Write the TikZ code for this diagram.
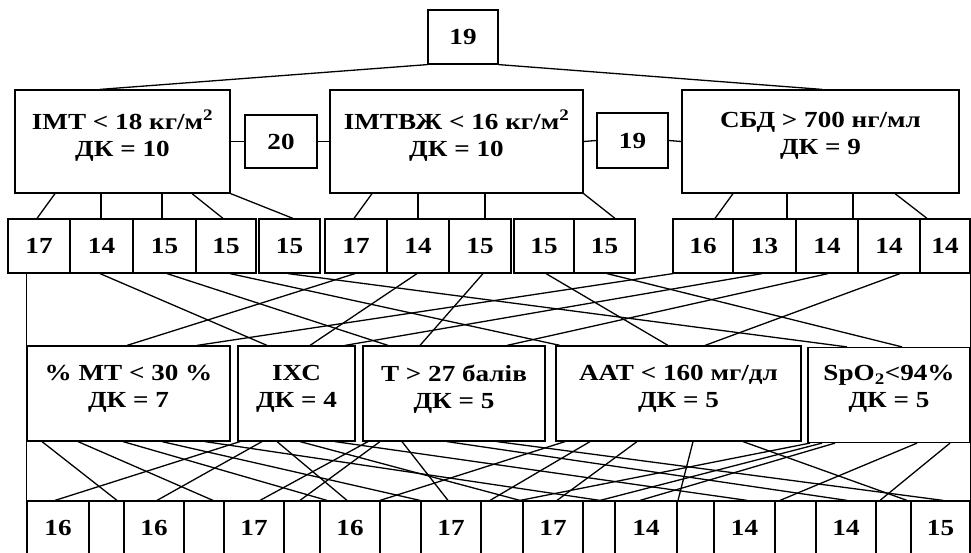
\documentclass[tikz,border=0pt]{standalone}
\usepackage{fontspec}
\setmainfont{Liberation Serif}[FakeStretch=1.18]
\usetikzlibrary{positioning}

\begin{document}
\begin{tikzpicture}[x=1pt, y=-1pt,
    cell/.style={draw, line width=1.2pt, inner sep=0pt, minimum height=54, font=\bfseries\fontsize{23}{27}\selectfont},
    crit/.style={cell, minimum height=103},
    mid/.style={cell, minimum height=95},
    txt/.style={align=center, inner sep=0pt, font=\bfseries\fontsize{23}{27}\selectfont},
    link/.style={line width=1.3pt}
]
\clip (0,0) rectangle (971,553);

% top
\node[cell, minimum width=70] (top) at (463,37) {19};

% first level criteria
\node[crit, minimum width=215] (imt) at (122.5,141.5) {};
\node[crit, minimum width=253] (imtvzh) at (456.5,141.5) {};
\node[crit, minimum width=277] (sbd) at (820.5,141.5) {};
\node[txt] (imt-t) at (122.5,136) {ІМТ < 18 кг/м\textsuperscript{2}\\ДК = 10};
\node[txt] (imtvzh-t) at (456.5,136) {ІМТВЖ < 16 кг/м\textsuperscript{2}\\ДК = 10};
\node[txt] (sbd-t) at (820.5,136) {СБД > 700 нг/мл\\ДК = 9};
\node[cell, minimum width=72, minimum height=53] (n20) at (281,141.5) {20};
\node[cell, minimum width=71, minimum height=55] (n19) at (632.5,140.5) {19};

\draw[link] (top.south west) -- ([xshift=-22.5pt]imt.north);
\draw[link] (top.south east) -- ([xshift=1.5pt]sbd.north);
\draw[link] (imt.east) -- (n20.west);
\draw[link] (n20.east) -- (imtvzh.west);
\draw[link] (imtvzh.east) -- (n19.west);
\draw[link] (n19.east) -- (sbd.west);

% second level scores
\foreach \n/\x/\w/\v in {a1/39/62/17, a2/101.5/63/14, a3/164.5/63/15, a4/226/60/15, a5/289.5/61/15,
    b1/356/62/17, b2/418/62/14, b3/480/62/15, b4/544/60/15, b5/604.5/61/15,
    c1/703/60/16, c2/764.5/63/13, c3/827/62/14, c4/889/62/14, c5/945/50/14}
  \node[cell, minimum width=\w] (\n) at (\x,246) {\v};

\draw[link] ([xshift=-67.5pt]imt.south) -- ([xshift=-2pt]a1.north);
\draw[link] ([xshift=-21.5pt]imt.south) -- ([xshift=-0.5pt]a2.north);
\draw[link] ([xshift=39.5pt]imt.south) -- ([xshift=-2.5pt]a3.north);
\draw[link] ([xshift=69.5pt]imt.south) -- ([xshift=-3pt]a4.north);
\draw[link] (imt.south east) -- ([xshift=3.5pt]a5.north);
\draw[link] ([xshift=-84.5pt]imtvzh.south) -- ([xshift=-2pt]b1.north);
\draw[link] ([xshift=-38.5pt]imtvzh.south) -- (b2.north);
\draw[link] ([xshift=28.5pt]imtvzh.south) -- ([xshift=5pt]b3.north);
\draw[link] (imtvzh.south east) -- ([xshift=10.5pt]b5.north);
\draw[link] ([xshift=-87.5pt]sbd.south) -- ([xshift=12pt]c1.north);
\draw[link] ([xshift=-33.5pt]sbd.south) -- ([xshift=22.5pt]c2.north);
\draw[link] ([xshift=32.5pt]sbd.south) -- ([xshift=26pt]c3.north);
\draw[link] ([xshift=74.5pt]sbd.south) -- ([xshift=38pt]c4.north);

% third level criteria
\node[mid, minimum width=203] (m1) at (128.5,393.5) {};
\node[mid, minimum width=117] (m2) at (296.5,393.5) {};
\node[mid, minimum width=182] (m3) at (454,393.5) {};
\node[mid, minimum width=245] (m4) at (678.5,393.5) {};
\node[mid, minimum width=162] (m5) at (889,395) {};
\node[txt] (m1-t) at (128.5,389) {\% МТ < 30 \%\\ДК = 7};
\node[txt] (m2-t) at (296.5,389) {ІХС\\ДК = 4};
\node[txt] (m3-t) at (454,389) {Т > 27 балів\\ДК = 5};
\node[txt] (m4-t) at (678.5,389) {ААТ < 160 мг/дл\\ДК = 5};
\node[txt] (m5-t) at (889,389) {SpO\textsubscript{2}<94\%\\ДК = 5};

\draw[link] (m1.north west) -- (m1.north west |- a1.south);
\draw[link] (m5.north east) -- (c5.south east);
\foreach \s/\sx/\d/\dx in {a2/-1.5/m2/-29.5, a3/2.5/m3/-66, a4/4/m4/-118.5, a5/-1.5/m5/-42,
    b1/-1/m1/-1.5, b2/-1/m2/13.5, b3/3/m3/-34, b4/2/m4/-10.5, b5/2.5/m5/13,
    c1/-30/m1/68.5, c2/-2.5/m2/48.5, c3/1/m3/53, c4/11/m4/26.5}
  \draw[link] ([xshift=\sx pt]\s.south) -- ([xshift=\dx pt]\d.north);

% bottom scores
\node[cell, minimum width=943] (row) at (498.5,528) {};
\foreach \n/\x/\w/\v in {r1/58/62/16, r2/154/60/16, r3/254/60/17, r4/350/60/16, r5/451/60/17,
    r6/553/60/17, r7/646/62/14, r8/744.5/61/14, r9/846/60/14, r10/940.5/59/15}
  \node[cell, minimum width=\w] (\n) at (\x,528) {\v};

\draw[link] (m1.south west) -- (row.north west);
\draw[link] (m5.south east) -- (row.north east);
\foreach \s/\sx/\dx in {m1/-86.5/-381.5, m1/-50.5/-285.5, m1/-5.5/-171.5, m1/33.5/-78.5, m1/76.5/101.5,
    m2/-56.5/-443.5, m2/-34.5/-341.5, m2/-19.5/-151.5, m2/3.5/21.5, m2/38.5/248.5,
    m3/-86/-238.5, m3/-74/-198.5, m3/-52/-50.5, m3/-7/348.5, m3/43/444.5,
    m4/-113.5/-118.5, m4/-88.5/-8.5, m4/-41.5/58.5, m4/14.5/179.5, m4/64.5/408.5,
    m5/-79/21.5, m5/-67/101.5, m5/-54/141.5, m5/28/281.5, m5/61/381.5}
  \draw[link] ([xshift=\sx pt]\s.south) -- ([xshift=\dx pt]row.north);
\end{tikzpicture}
\end{document}
